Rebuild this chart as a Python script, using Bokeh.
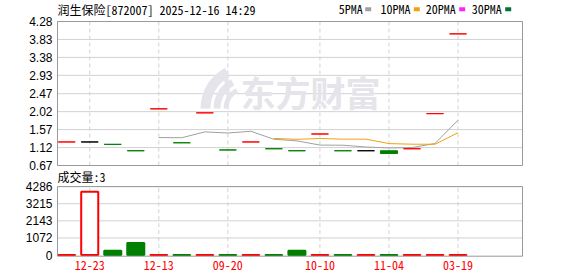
import pandas as pd
from bokeh.plotting import figure
from bokeh.models import (ColumnDataSource, FixedTicker, Label, BoxAnnotation,
                          Range1d)
from bokeh.embed import file_html
from bokeh.resources import INLINE

# ---------------- data ----------------
title_text = "润生保险[872007] 2025-12-16 14:29"
opens  = [1.26, 1.26, 1.20, 1.04, 2.09, 1.24, 1.99, 1.06, 1.26, 1.09,
          1.04, 1.46, 1.04, 1.04, 1.04, 1.09, 1.97, 3.97]
closes = [1.26, 1.26, 1.20, 1.04, 2.09, 1.24, 1.99, 1.06, 1.26, 1.09,
          1.04, 1.46, 1.04, 1.04, 0.97, 1.09, 1.97, 3.97]
highs  = [1.26, 1.26, 1.20, 1.04, 2.09, 1.24, 1.99, 1.06, 1.26, 1.09,
          1.04, 1.46, 1.04, 1.04, 1.04, 1.09, 1.97, 3.97]
lows   = [1.26, 1.26, 1.20, 1.04, 2.09, 1.24, 1.99, 1.06, 1.26, 1.09,
          1.04, 1.46, 1.04, 1.04, 0.97, 1.09, 1.97, 3.97]
volumes = [6, 3970, 270, 760, 8, 10, 5, 7, 9, 12,
           265, 6, 8, 5, 10, 6, 7, 3]
last_volume_text = "成交量:3"

price_ticks = [0.67, 1.12, 1.57, 2.02, 2.47, 2.93, 3.38, 3.83, 4.28]
price_tick_labels = ["0.67", "1.12", "1.57", "2.02", "2.47", "2.93", "3.38", "3.83", "4.28"]
vol_ticks = [0, 1072, 2143, 3215, 4286]
vol_tick_labels = ["0", "1072", "2143", "3215", "4286"]
date_ticks = [1, 4, 7, 11, 14, 17]
date_labels = ["12-23", "12-13", "09-20", "10-10", "11-04", "03-19"]

ma_names = ["5PMA", "10PMA", "20PMA", "30PMA"]
ma_windows = [5, 10, 20, 30]
ma_colors = ["#a0a0a0", "#f2a20c", "#ff22ff", "#00733a"]

# ---------------- styles / layout ----------------
RED, GREEN, BLACK = "#ff0000", "#008000", "#000000"
GRID = "#d2d2d2"
BORDER = "#999999"
WATERMARK = "#e4e4ea"
CN_FONT = "Noto Sans Mono CJK SC, Noto Sans CJK SC, monospace"
NUM_FONT = "Liberation Sans"

W, H = 578, 276
FRAME_L, FRAME_R, FRAME_B = 56, 523, 257          # page pixels
PRICE_TOP_PX, PRICE_BOT_PX = 21, 165
VOL_TOP_PX, VOL_BOT_PX = 186.1, 254.6
X_LO, X_HI = -0.4, 19.8                            # panel edges in slots

n = len(closes)
xs = list(range(n))
price_colors, vol_colors, vol_fills = [], [], []
for i in range(n):
    prev = closes[i - 1] if i > 0 else closes[i] - 1
    if closes[i] > prev:
        price_colors.append(RED)
    elif closes[i] < prev:
        price_colors.append(GREEN)
    else:
        price_colors.append(BLACK)
    if closes[i] >= prev:
        vol_colors.append(RED); vol_fills.append("#ffffff")
    else:
        vol_colors.append(GREEN); vol_fills.append(GREEN)

src = ColumnDataSource(dict(
    x=xs, open=opens, close=closes, high=highs, low=lows,
    top=[max(o, c) for o, c in zip(opens, closes)],
    bottom=[min(o, c) for o, c in zip(opens, closes)],
    color=price_colors, vol=volumes, vcolor=vol_colors, vfill=vol_fills,
))

# ranges: one frame holds both panels
px_per_slot = (FRAME_R - FRAME_L - 2) / (X_HI - X_LO)
x_range = Range1d(X_LO - 1 / px_per_slot, X_HI + 1 / px_per_slot)
p_lo, p_hi = price_ticks[0], price_ticks[-1]
kp = (p_hi - p_lo) / (PRICE_BOT_PX - PRICE_TOP_PX)
y_range = Range1d(p_lo - (FRAME_B - PRICE_BOT_PX) * kp, p_hi + PRICE_TOP_PX * kp)
v_lo, v_hi = vol_ticks[0], vol_ticks[-1]
kv = (v_hi - v_lo) / (VOL_BOT_PX - VOL_TOP_PX)
vol_range = Range1d(v_lo - (FRAME_B - VOL_BOT_PX) * kv, v_hi + VOL_TOP_PX * kv)


def vol_to_price(v):
    f = (v - vol_range.start) / (vol_range.end - vol_range.start)
    return y_range.start + f * (y_range.end - y_range.start)


def page_x(px):
    return X_LO + (px - (FRAME_L + 1)) / px_per_slot


def page_y(py):
    return p_hi - (py - PRICE_TOP_PX) * kp


p = figure(width=W, height=H, x_range=x_range, y_range=y_range,
           output_backend="svg", toolbar_location=None,
           min_border_left=FRAME_L, min_border_right=W - FRAME_R,
           min_border_top=0, min_border_bottom=H - FRAME_B)
p.extra_y_ranges = {"vol": vol_range}
p.outline_line_color = None
p.background_fill_color = "#ffffff"
p.border_fill_color = "#ffffff"
p.grid.visible = False

# axes: one left axis carries both panels' labels
vol_pos = [vol_to_price(v) for v in vol_ticks]
p.yaxis.ticker = FixedTicker(ticks=price_ticks + vol_pos)
overrides = dict(zip(price_ticks, price_tick_labels))
overrides.update(dict(zip(vol_pos, vol_tick_labels)))
p.yaxis.major_label_overrides = overrides
p.xaxis.ticker = FixedTicker(ticks=date_ticks)
p.xaxis.major_label_overrides = dict(zip(date_ticks, date_labels))
for ax in (p.xaxis, p.yaxis):
    ax.axis_line_color = None
    ax.major_tick_line_color = None
    ax.minor_tick_line_color = None
    ax.major_tick_out = 0
    ax.major_tick_in = 0
p.yaxis.major_label_standoff = 4
p.yaxis.major_label_text_font = NUM_FONT
p.yaxis.major_label_text_font_size = "12px"
p.yaxis.major_label_text_color = "#000000"
p.xaxis.major_label_standoff = 3
p.xaxis.major_label_text_font = CN_FONT
p.xaxis.major_label_text_font_size = "12px"
p.xaxis.major_label_text_color = RED

# grids (drawn inside each panel only)
p.segment(x0=X_LO, x1=X_HI, y0=price_ticks, y1=price_ticks,
          line_color=GRID, line_width=1)
p.segment(x0=date_ticks, x1=date_ticks, y0=p_lo, y1=p_hi,
          line_color=GRID, line_width=1, line_dash="4 3")
p.segment(x0=X_LO, x1=X_HI, y0=vol_ticks[1:], y1=vol_ticks[1:],
          line_color=GRID, line_width=1, y_range_name="vol")
p.segment(x0=date_ticks, x1=date_ticks, y0=v_lo, y1=v_hi,
          line_color=GRID, line_width=1, line_dash="4 3", y_range_name="vol")

# watermark: logo swoosh + text
for r_in, r_out in [(36, 46), (26, 33), (18, 23)]:
    p.annular_wedge(x=page_x(246), y=page_y(108), inner_radius=r_in,
                    outer_radius=r_out, inner_radius_units="screen",
                    outer_radius_units="screen", start_angle=2.06,
                    end_angle=3.14, fill_color=WATERMARK, line_color=None)
p.annular_wedge(x=page_x(195), y=page_y(92), inner_radius=31, outer_radius=34,
                inner_radius_units="screen", outer_radius_units="screen",
                start_angle=-0.44, end_angle=0.52,
                fill_color=WATERMARK, line_color=None)
p.add_layout(Label(x=184, y=FRAME_B - 91, x_units="screen", y_units="screen",
                   text="东方财富", text_font="Noto Sans CJK SC", text_font_style="bold",
                   text_font_size="35px", text_color=WATERMARK,
                   text_baseline="middle", text_align="left"))

# moving averages
close_s = pd.Series(closes, dtype=float)
for name, w, col in zip(ma_names, ma_windows, ma_colors):
    ma = close_s.rolling(w).mean()
    mask = ma.notna()
    if mask.sum() > 1:
        p.line([x for x, m in zip(xs, mask) if m], list(ma[mask]),
               line_color=col, line_width=1)

# candles
p.segment(x0="x", y0="high", x1="x", y1="low", color="color", source=src)
p.vbar(x="x", width=0.74, top="top", bottom="bottom", fill_color="color",
       line_color="color", line_width=1, source=src)

# volume bars
p.vbar(x="x", width=0.74, top="vol", bottom=0, fill_color="vfill",
       line_color="vcolor", line_width=2, source=src, y_range_name="vol")

# panel borders (volume frame's base sits one pixel under the zero line)
p.quad(left=X_LO, right=X_HI, bottom=p_lo, top=p_hi, fill_color=None,
       line_color=BORDER, line_width=1)
p.quad(left=X_LO, right=X_HI, bottom=v_lo - 1.1 * kv, top=v_hi, fill_color=None,
       line_color=BORDER, line_width=1, y_range_name="vol")

# title, legend, volume caption
p.add_layout(Label(x=1, y=FRAME_B - 8.7, x_units="screen", y_units="screen",
                   text=title_text, text_font=CN_FONT, text_font_size="12px",
                   text_color="#000000", text_baseline="middle"))
legend_text_x = [282.3, 324, 369.3, 415.3]
legend_box_x = [308.7, 357.3, 402.7, 448.7]
for name, col, tx, bx in zip(ma_names, ma_colors, legend_text_x, legend_box_x):
    p.add_layout(Label(x=tx, y=FRAME_B - 8.3, x_units="screen", y_units="screen",
                       text=name, text_font=CN_FONT, text_font_size="12px",
                       text_color="#000000", text_baseline="middle"))
    p.add_layout(BoxAnnotation(left=bx, right=bx + 6,
                               bottom=FRAME_B - 10.7, top=FRAME_B - 6.7,
                               left_units="screen", right_units="screen",
                               bottom_units="screen", top_units="screen",
                               fill_color=col, fill_alpha=1, line_color=None))
p.add_layout(Label(x=1, y=FRAME_B - 176.2, x_units="screen", y_units="screen",
                   text=last_volume_text, text_font=CN_FONT, text_font_size="12px",
                   text_color="#000000", text_baseline="middle"))

open("out.html", "w").write(file_html(p, INLINE))
